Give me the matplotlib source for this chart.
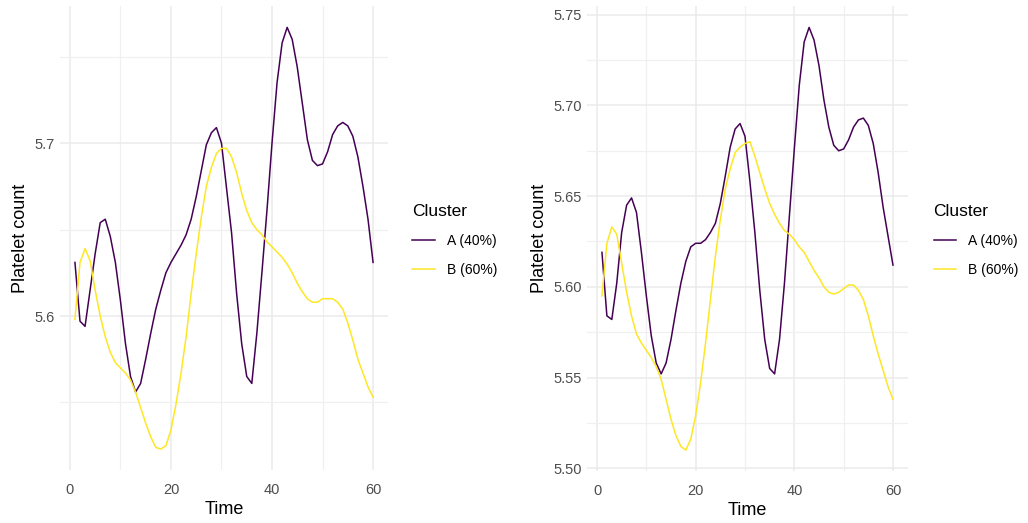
import numpy as np
import matplotlib.pyplot as plt
from matplotlib.ticker import MultipleLocator

plt.rcParams['font.family'] = ['Liberation Sans', 'DejaVu Sans']

# Time points
time = list(range(1, 61))

# Left panel
left_a = [5.631, 5.597, 5.594, 5.615, 5.636, 5.654, 5.656, 5.646, 5.631, 5.609,
          5.584, 5.565, 5.556, 5.561, 5.575, 5.590, 5.604, 5.615, 5.625, 5.631,
          5.636, 5.641, 5.647, 5.656, 5.669, 5.684, 5.699, 5.706, 5.709, 5.700,
          5.674, 5.648, 5.613, 5.584, 5.565, 5.561, 5.590, 5.625, 5.661, 5.700,
          5.735, 5.758, 5.767, 5.760, 5.744, 5.723, 5.702, 5.690, 5.687, 5.688,
          5.695, 5.705, 5.710, 5.712, 5.710, 5.704, 5.692, 5.675, 5.656, 5.631]
left_b = [5.598, 5.631, 5.639, 5.632, 5.615, 5.600, 5.588, 5.579, 5.573, 5.570,
          5.567, 5.563, 5.556, 5.547, 5.538, 5.530, 5.524, 5.523, 5.525, 5.534,
          5.549, 5.567, 5.588, 5.613, 5.636, 5.657, 5.675, 5.686, 5.694, 5.697,
          5.697, 5.692, 5.683, 5.671, 5.661, 5.654, 5.650, 5.647, 5.643, 5.640,
          5.637, 5.634, 5.630, 5.625, 5.619, 5.614, 5.610, 5.608, 5.608, 5.610,
          5.610, 5.610, 5.608, 5.604, 5.596, 5.586, 5.575, 5.567, 5.559, 5.553]

# Right panel
right_a = [5.619, 5.584, 5.582, 5.602, 5.630, 5.645, 5.649, 5.641, 5.619, 5.595,
           5.573, 5.558, 5.552, 5.558, 5.571, 5.587, 5.602, 5.614, 5.622, 5.624,
           5.624, 5.626, 5.630, 5.635, 5.646, 5.661, 5.677, 5.687, 5.690, 5.683,
           5.658, 5.630, 5.598, 5.571, 5.555, 5.552, 5.571, 5.602, 5.639, 5.676,
           5.711, 5.735, 5.743, 5.736, 5.722, 5.703, 5.688, 5.678, 5.675, 5.676,
           5.681, 5.688, 5.692, 5.693, 5.689, 5.679, 5.663, 5.644, 5.628, 5.612]
right_b = [5.595, 5.624, 5.633, 5.629, 5.613, 5.597, 5.584, 5.574, 5.569, 5.565,
           5.561, 5.556, 5.549, 5.538, 5.527, 5.518, 5.512, 5.510, 5.516, 5.529,
           5.547, 5.569, 5.593, 5.617, 5.637, 5.654, 5.665, 5.674, 5.677, 5.679,
           5.680, 5.672, 5.663, 5.654, 5.646, 5.640, 5.635, 5.631, 5.629, 5.626,
           5.622, 5.619, 5.614, 5.609, 5.605, 5.600, 5.597, 5.596, 5.597, 5.599,
           5.601, 5.601, 5.598, 5.593, 5.584, 5.573, 5.563, 5.554, 5.545, 5.538]

labels = ['A (40%)', 'B (60%)']
colors = ['#440154', '#FDE725']

fig = plt.figure(figsize=(10.28, 5.23), dpi=100)
ax1 = fig.add_axes([0.0584, 0.101, 0.319, 0.887])
ax2 = fig.add_axes([0.5714, 0.099, 0.3114, 0.889])

panels = [(ax1, left_a, left_b, 0.1, 0.389),
          (ax2, right_a, right_b, 0.05, 0.896)]

for ax, a, b, ystep, lx in panels:
    ax.plot(time, a, color=colors[0], lw=1.1, label=labels[0])
    ax.plot(time, b, color=colors[1], lw=1.1, label=labels[1])
    ax.xaxis.set_major_locator(MultipleLocator(20))
    ax.xaxis.set_minor_locator(MultipleLocator(10))
    ax.yaxis.set_major_locator(MultipleLocator(ystep))
    ax.yaxis.set_minor_locator(MultipleLocator(ystep / 2))
    if ystep == 0.05:
        ax.yaxis.set_major_formatter(plt.FormatStrFormatter('%.2f'))
    else:
        ax.yaxis.set_major_formatter(plt.FormatStrFormatter('%.1f'))
    ax.grid(which='major', color='#EBEBEB', lw=1.1)
    ax.grid(which='minor', color='#F0F0F0', lw=0.9)
    ax.set_axisbelow(True)
    for s in ax.spines.values():
        s.set_visible(False)
    ax.tick_params(which='both', length=0, labelsize=10.5, labelcolor='#4D4D4D')
    ax.tick_params(axis='x', pad=9)
    ax.tick_params(axis='y', pad=4)
    ax.set_xlabel('Time', fontsize=13, labelpad=3)
    ax.set_ylabel('Platelet count', fontsize=13, labelpad=4)
    leg = ax.legend(title='Cluster', loc='center left', bbox_to_anchor=(lx, 0.54),
                    bbox_transform=fig.transFigure, frameon=False, fontsize=10,
                    title_fontsize=12.5, handlelength=1.6, handletextpad=0.9,
                    labelspacing=1.05, alignment='left')

fig.savefig('out.png', dpi=100)
